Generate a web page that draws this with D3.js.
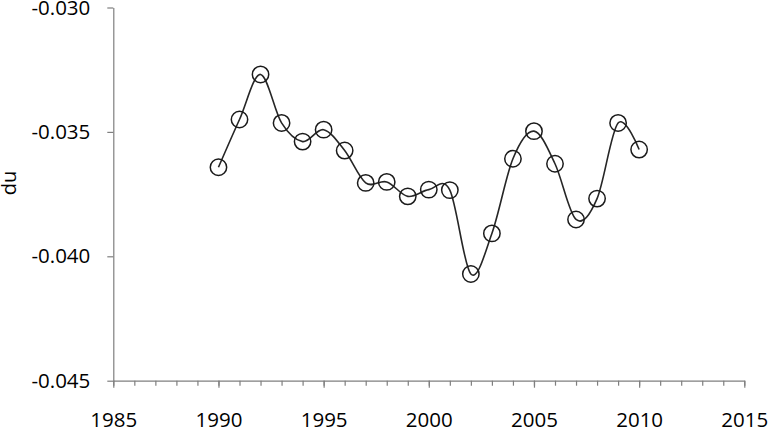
<!DOCTYPE html>
<html>
<head>
<meta charset="utf-8">
<script src="https://cdn.jsdelivr.net/npm/d3@7"></script>
<style>
  body { margin: 0; background: #fff; }
  text { font-family: "Open Sans", "Liberation Sans", sans-serif; fill: #000; }
</style>
</head>
<body>
<script>
// data
var years = [1990, 1991, 1992, 1993, 1994, 1995, 1996, 1997, 1998, 1999, 2000,
             2001, 2002, 2003, 2004, 2005, 2006, 2007, 2008, 2009, 2010];
var du = [-0.03642, -0.03450, -0.03269, -0.03464, -0.03539, -0.03491, -0.03575,
          -0.03705, -0.03701, -0.03759, -0.03732, -0.03734, -0.04071, -0.03908,
          -0.03608, -0.03497, -0.03628, -0.03852, -0.03768, -0.03464, -0.03571];
var xTicks = [1985, 1990, 1995, 2000, 2005, 2010, 2015];
var yTicks = [-0.045, -0.040, -0.035, -0.030];

var width = 769, height = 438;

var xScale = d3.scaleLinear()
    .domain([1985, 2015])
    .range([113.3, 744.3]);

var yScale = d3.scaleLinear()
    .domain([-0.045, -0.030])
    .range([380.7, 7.5]);

var svg = d3.select("body").append("svg")
    .attr("width", width)
    .attr("height", height);

// minor ticks every year on x axis
var xMinor = svg.append("g")
    .attr("transform", "translate(0," + yScale(-0.045) + ")")
    .call(d3.axisBottom(xScale).tickValues(d3.range(1985, 2016)).tickSize(5).tickFormat(""));
xMinor.select(".domain").remove();
xMinor.selectAll("line").attr("stroke", "#7f7f7f").attr("stroke-width", 1.2);

// x axis
var xAxis = svg.append("g")
    .attr("transform", "translate(0," + yScale(-0.045) + ")")
    .call(d3.axisBottom(xScale).tickValues(xTicks).tickSize(7).tickSizeOuter(0).tickPadding(25).tickFormat(d3.format("d")));
xAxis.select(".domain").attr("stroke", "#7f7f7f").attr("stroke-width", 1.2);
xAxis.selectAll("line").attr("stroke", "#7f7f7f").attr("stroke-width", 1.2);
xAxis.selectAll("text").style("font-size", "20.5px").attr("fill", "#000");

// y axis
var yAxis = svg.append("g")
    .attr("transform", "translate(" + xScale(1985) + ",0)")
    .call(d3.axisLeft(yScale).tickValues(yTicks).tickSize(6).tickSizeOuter(0).tickPadding(17).tickFormat(d3.format(".3f")));
yAxis.select(".domain").attr("stroke", "#7f7f7f").attr("stroke-width", 1.2);
yAxis.selectAll("line").attr("stroke", "#7f7f7f").attr("stroke-width", 1.2);
yAxis.selectAll("text").style("font-size", "20.5px").attr("fill", "#000");
// use a plain hyphen like the original
yAxis.selectAll("text").text(function(d) { return d3.format(".3f")(d).replace("\u2212", "-"); });

// axis title
svg.append("text")
    .attr("transform", "translate(16,183) rotate(-90)")
    .attr("text-anchor", "middle")
    .style("font-size", "20px")
    .text("du");

var points = years.map(function(y, i) { return [y, du[i]]; });

// smoothed line
var line = d3.line()
    .x(function(d) { return xScale(d[0]); })
    .y(function(d) { return yScale(d[1]); })
    .curve(d3.curveCatmullRom.alpha(0));

svg.append("path")
    .datum(points)
    .attr("fill", "none")
    .attr("stroke", "#262626")
    .attr("stroke-width", 1.6)
    .attr("d", line);

// hollow markers
svg.selectAll("circle")
    .data(points)
    .enter().append("circle")
    .attr("cx", function(d) { return xScale(d[0]); })
    .attr("cy", function(d) { return yScale(d[1]); })
    .attr("r", 8.2)
    .attr("fill", "none")
    .attr("stroke", "#1a1a1a")
    .attr("stroke-width", 1.5);
</script>
</body>
</html>
